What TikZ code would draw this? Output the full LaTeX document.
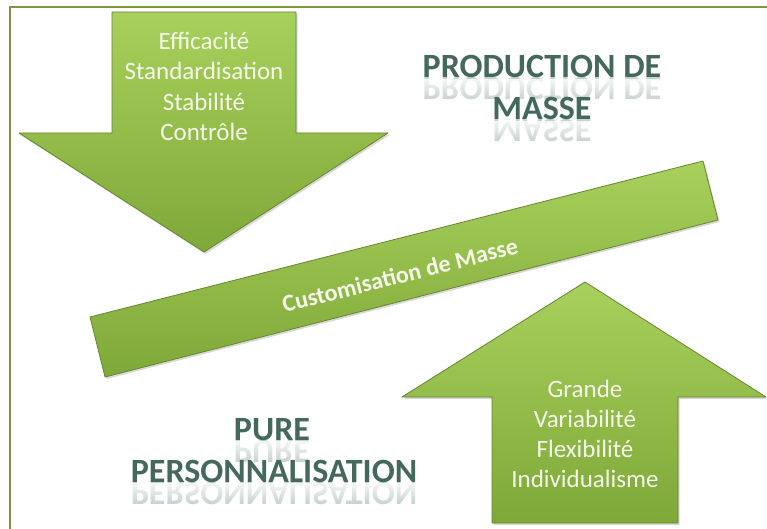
\documentclass[tikz,border=0pt]{standalone}
\usepackage{fontspec}
\setmainfont{Carlito}
\usetikzlibrary{shadows,fadings}
\definecolor{gtop}{RGB}{168,208,92}
\definecolor{gbot}{RGB}{126,168,56}
\definecolor{gedge}{RGB}{104,134,48}
\definecolor{framecol}{RGB}{122,152,62}
\definecolor{atext}{RGB}{246,250,236}
\definecolor{headcol}{RGB}{68,104,92}
\tikzfading[name=reflfade, top color=transparent!20, bottom color=transparent!100]
\tikzset{
  greenshape/.style={top color=gtop, bottom color=gbot, draw=gedge, line width=0.8pt, line join=round,
    drop shadow={opacity=0.3, shadow xshift=1.5pt, shadow yshift=-2pt}},
  arrowtext/.style={text=atext, anchor=base, inner sep=0pt, font=\fontsize{25}{30}\selectfont},
  bandtext/.style={text=atext, font=\bfseries\fontsize{24}{28}\selectfont, rotate=14.3},
  headtext/.style={text=headcol, font=\bfseries\fontsize{34}{40}\selectfont, anchor=base, inner sep=0pt},
  refltext/.style={headtext, text=headcol!30, yscale=-1},
  reflcover/.style={fill=white, path fading=reflfade},
  frameline/.style={draw=framecol, line width=2.5pt}
}
\begin{document}
\begin{tikzpicture}[x=1pt, y=-1pt]
\useasboundingbox (0,0) rectangle (767,529);
\fill[white] (0,0) rectangle (767,529);
% frame
\draw[frameline] (10,529) -- (10,7) -- (767,7);
% down arrow
\path[greenshape] (112,12) -- (296,12) -- (296,133) -- (388,133) -- (204,252) -- (19,133) -- (112,133) -- cycle;
% band
\path[greenshape] (90,317) -- (703,161) -- (718,220) -- (105,377) -- cycle;
% up arrow
\path[greenshape] (492,523) -- (678,523) -- (678,397) -- (766,397) -- (585,282) -- (402,397) -- (492,397) -- cycle;
% texts in down arrow
\node[arrowtext] (d1) at (204,50) {Efficacité};
\node[arrowtext] (d2) at (204,80) {Standardisation};
\node[arrowtext] (d3) at (204,111) {Stabilité};
\node[arrowtext] (d4) at (204,141) {Contrôle};
% texts in up arrow
\node[arrowtext] (u1) at (585,397) {Grande};
\node[arrowtext] (u2) at (585,427) {Variabilité};
\node[arrowtext] (u3) at (585,457) {Flexibilité};
\node[arrowtext] (u4) at (585,487) {Individualisme};
% band text
\node[bandtext] (band) at (400,275) {Customisation de Masse};
% reflections
\node[refltext] (r1) at (542,78) {PRODUCTION DE};
\fill[reflcover] (410,79) rectangle (680,100);
\node[refltext] (r2) at (542,120) {MASSE};
\fill[reflcover] (470,121) rectangle (615,142);
\node[refltext] (r3) at (272,440) {PURE};
\fill[reflcover] (220,441) rectangle (325,462);
\node[refltext] (r4) at (274,482) {PERSONNALISATION};
\fill[reflcover] (120,483) rectangle (430,504);
% headings
\node[headtext] (h1) at (542,78) {PRODUCTION DE};
\node[headtext] (h2) at (542,120) {MASSE};
\node[headtext] (h3) at (272,440) {PURE};
\node[headtext] (h4) at (274,482) {PERSONNALISATION};
\end{tikzpicture}
\end{document}
